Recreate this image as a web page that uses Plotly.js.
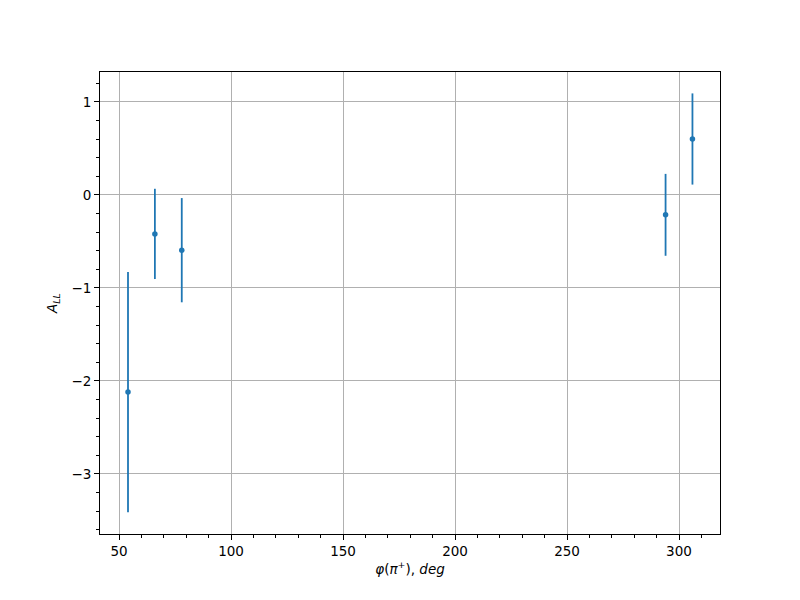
<!DOCTYPE html>
<html>
<head>
<meta charset="utf-8">
<script src="https://cdn.plot.ly/plotly-3.0.1.min.js"></script>
<style>html,body{margin:0;padding:0;background:#fff;}</style>
</head>
<body>
<div id="chart" style="width:800px;height:600px;"></div>
<script>
const phi = [54, 66, 78, 294, 306];
const all = [-2.12, -0.42, -0.595, -0.215, 0.60];
const err = [1.29, 0.485, 0.56, 0.44, 0.49];

const trace = {
  x: phi,
  y: all,
  type: 'scatter',
  mode: 'markers',
  marker: {color: '#1f77b4', size: 5.5},
  error_y: {type: 'data', array: err, visible: true, color: '#1f77b4', thickness: 1.8, width: 0},
  showlegend: false
};

const font = {family: 'DejaVu Sans, sans-serif', size: 13.5, color: '#000'};

const layout = {
  width: 800, height: 600,
  margin: {l: 100, r: 80, t: 72, b: 66},
  paper_bgcolor: '#fff', plot_bgcolor: '#fff',
  font: font,
  xaxis: {
    range: [41.5, 318.3],
    tickvals: [50, 100, 150, 200, 250, 300],
    ticks: 'outside', ticklen: 5, tickwidth: 1, tickcolor: '#000',
    showgrid: true, gridcolor: '#b0b0b0', gridwidth: 1,
    showline: true, linecolor: '#000', linewidth: 1, mirror: true,
    zeroline: false,
    minor: {dtick: 10, tick0: 0, ticks: 'outside', ticklen: 3, tickcolor: '#000', showgrid: false},
    title: {text: '<i>φ</i>(<i>π</i><sup>+</sup>), <i>deg</i>', font: font, standoff: 6}
  },
  yaxis: {
    range: [-3.645, 1.32],
    tickvals: [-3, -2, -1, 0, 1],
    ticktext: ['−3', '−2', '−1', '0', '1'],
    ticks: 'outside', ticklen: 5, tickwidth: 1, tickcolor: '#000',
    showgrid: true, gridcolor: '#b0b0b0', gridwidth: 1,
    showline: true, linecolor: '#000', linewidth: 1, mirror: true,
    zeroline: false,
    minor: {dtick: 0.2, tick0: 0, ticks: 'outside', ticklen: 3, tickcolor: '#000', showgrid: false},
    title: {text: '<i>A</i><sub><i>LL</i></sub>', font: font, standoff: 10}
  }
};

Plotly.newPlot('chart', [trace], layout, {displayModeBar: false, staticPlot: true});
</script>
</body>
</html>
